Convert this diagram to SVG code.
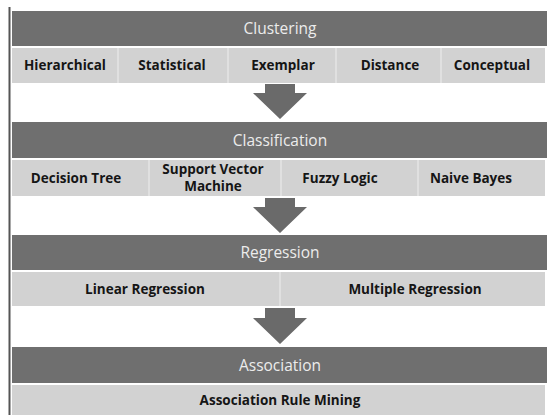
<svg xmlns="http://www.w3.org/2000/svg" width="547" height="415" viewBox="0 0 547 415">
<style>
.hdr{fill:#6f6f6f}
.sub{fill:#d2d2d2}
.sep{stroke:#e4e4e4;stroke-width:1.5}
.ht{font-family:"Open Sans","Liberation Sans",sans-serif;font-size:15.5px;fill:#ececec;text-anchor:middle}
.st{font-family:"Open Sans","Liberation Sans",sans-serif;font-size:13.5px;font-weight:bold;fill:#151515;text-anchor:middle}
.arr{fill:#6a6a6a}
</style>
<rect width="547" height="415" fill="#ffffff"/>
<line x1="9.5" y1="7" x2="9.5" y2="415" stroke="#555" stroke-width="2"/>

<g id="clustering">
<rect class="hdr" x="12" y="11" width="535" height="35"/>
<text class="ht" x="280" y="34">Clustering</text>
<rect class="sub" x="12" y="48" width="533" height="35"/>
<line class="sep" x1="118" y1="48" x2="118" y2="83"/>
<line class="sep" x1="228" y1="48" x2="228" y2="83"/>
<line class="sep" x1="336" y1="48" x2="336" y2="83"/>
<line class="sep" x1="441" y1="48" x2="441" y2="83"/>
<text class="st" x="65" y="70">Hierarchical</text>
<text class="st" x="172" y="70">Statistical</text>
<text class="st" x="283" y="70">Exemplar</text>
<text class="st" x="390" y="70">Distance</text>
<text class="st" x="492" y="70">Conceptual</text>
</g>

<g id="classification">
<rect class="hdr" x="12" y="122" width="535" height="36"/>
<text class="ht" x="280" y="146">Classification</text>
<rect class="sub" x="12" y="160" width="533" height="36"/>
<line class="sep" x1="149" y1="160" x2="149" y2="196"/>
<line class="sep" x1="281" y1="160" x2="281" y2="196"/>
<line class="sep" x1="418" y1="160" x2="418" y2="196"/>
<text class="st" x="76" y="183">Decision Tree</text>
<text class="st" x="213" y="174">Support Vector</text>
<text class="st" x="213" y="191">Machine</text>
<text class="st" x="340" y="183">Fuzzy Logic</text>
<text class="st" x="471" y="183">Naive Bayes</text>
</g>

<g id="regression">
<rect class="hdr" x="12" y="235" width="535" height="35"/>
<text class="ht" x="280" y="258">Regression</text>
<rect class="sub" x="12" y="272" width="533" height="34"/>
<line class="sep" x1="280" y1="272" x2="280" y2="306"/>
<text class="st" x="145" y="294">Linear Regression</text>
<text class="st" x="415" y="294">Multiple Regression</text>
</g>

<g id="association">
<rect class="hdr" x="12" y="347" width="535" height="36"/>
<text class="ht" x="280" y="371">Association</text>
<rect class="sub" x="12" y="385" width="533" height="30"/>
<text class="st" x="280" y="405">Association Rule Mining</text>
</g>

<g id="connectors">
<polygon class="arr" points="265,84 295,84 295,93 307,93 280,119 253,93 265,93"/>
<polygon class="arr" points="265,198 295,198 295,207 307,207 280,233 253,207 265,207"/>
<polygon class="arr" points="265,308 295,308 295,318 307,318 280,344 253,318 265,318"/>
</g>
</svg>
